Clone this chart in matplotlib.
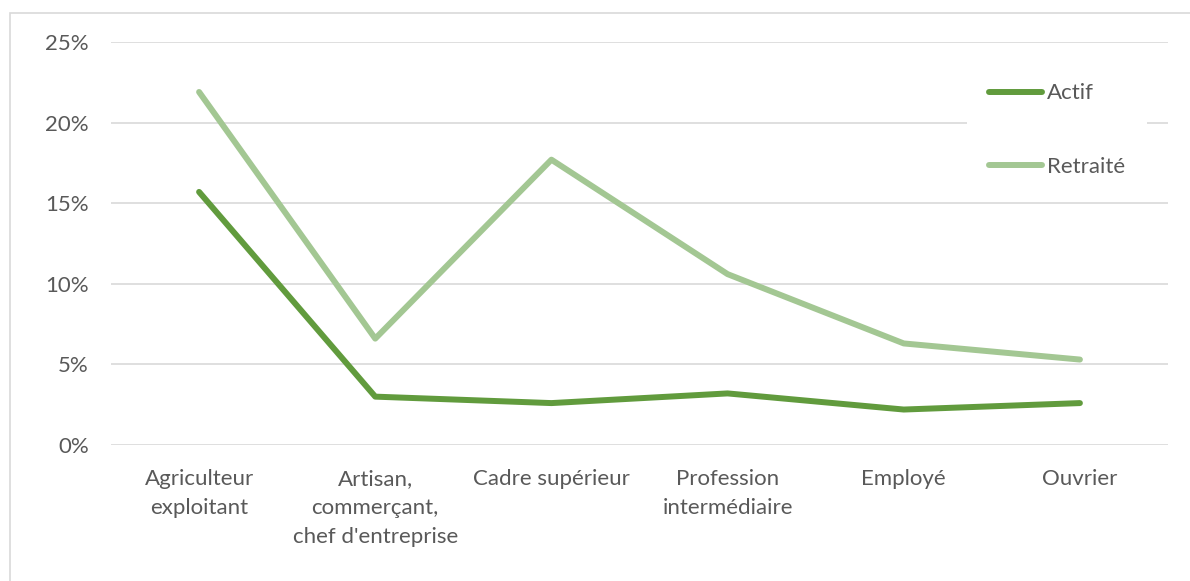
import matplotlib.pyplot as plt
from matplotlib.patches import Rectangle
from matplotlib.ticker import FuncFormatter

# --- DONNÉES ---
categories = ["Agriculteur\nexploitant", "Artisan,\ncommerçant,\nchef d'entreprise",
              "Cadre supérieur", "Profession\nintermédiaire", "Employé", "Ouvrier"]
actif = [15.7, 3.0, 2.6, 3.2, 2.2, 2.6]
retraite = [21.9, 6.6, 17.7, 10.6, 6.3, 5.3]
yticks = [0, 5, 10, 15, 20, 25]

plt.rcParams['font.family'] = ['Lato', 'DejaVu Sans']
txt = '#595959'
fs = 16

fig = plt.figure(figsize=(11.9, 5.81), dpi=100)
ax = fig.add_axes([111 / 1190, 1 - 445 / 581, (1168 - 111) / 1190, (445 - 42) / 581])

x = range(len(categories))
ax.plot(x, actif, color='#619B3D', lw=4.3, solid_capstyle='round', solid_joinstyle='round', label='Actif')
ax.plot(x, retraite, color='#A3C793', lw=4.3, solid_capstyle='round', solid_joinstyle='round', label='Retraité')

ax.set_xlim(-0.5, len(categories) - 0.5)
ax.set_ylim(0, 25)
ax.set_yticks(yticks)
ax.yaxis.set_major_formatter(FuncFormatter(lambda v, p: f"{v:.0f}%"))
ax.set_xticks(list(x))
ax.set_xticklabels(categories, linespacing=1.58, va='top')
ax.grid(axis='y', color='#D9D9D9', lw=1.2)
ax.set_axisbelow(True)
for s in ax.spines.values():
    s.set_visible(False)
ax.tick_params(length=0, labelsize=fs, colors=txt)
ax.tick_params(axis='x', pad=17)
ax.tick_params(axis='y', pad=16)

leg = ax.legend(loc='upper left', bbox_to_anchor=(0.799, 0.98), frameon=True, fancybox=False,
                edgecolor='none', facecolor='white', framealpha=1, fontsize=fs,
                handlelength=2.4, handletextpad=0.2, labelspacing=2.42, borderpad=1.0)
for t in leg.get_texts():
    t.set_color(txt)

# cadre du graphique
fig.patches.append(Rectangle((10 / 1190, -0.05), 1.1, 1 - 13 / 581 + 0.05, transform=fig.transFigure,
                             fill=False, edgecolor='#D9D9D9', lw=1.2))

fig.savefig('out.png', dpi=100)
